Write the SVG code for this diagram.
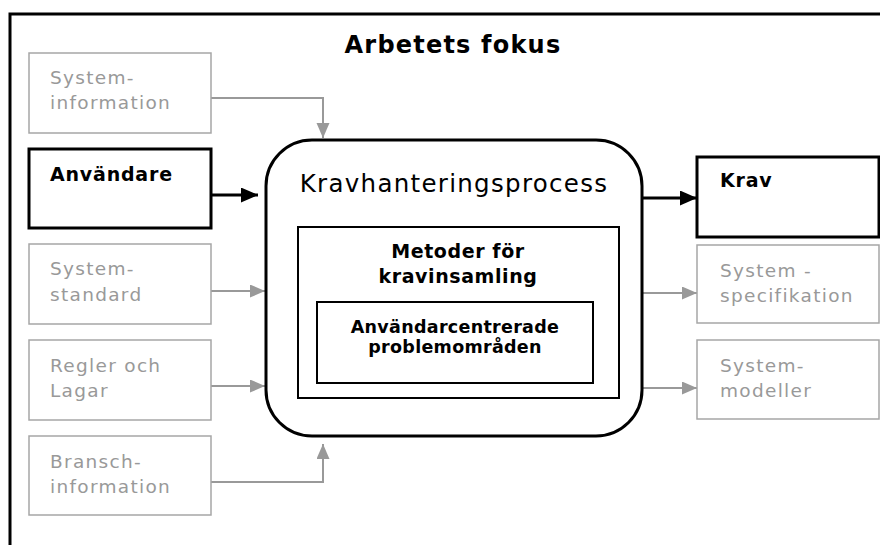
<svg xmlns="http://www.w3.org/2000/svg" width="880" height="545" viewBox="0 0 880 545">
  <defs>
    <marker id="arrow-black" markerUnits="userSpaceOnUse" markerWidth="18" markerHeight="16" refX="17" refY="7.5" orient="auto">
      <path d="M0,0 L17,7.5 L0,15 z" fill="#000"/>
    </marker>
    <marker id="arrow-grey" markerUnits="userSpaceOnUse" markerWidth="16" markerHeight="14" refX="15" refY="6.5" orient="auto">
      <path d="M0,0 L15,6.5 L0,13 z" fill="#999"/>
    </marker>
    <style>
      .frame { fill: none; stroke: #000; stroke-width: 3; }
      .box-grey { fill: #fff; stroke: #a6a6a6; stroke-width: 1.5; }
      .box-black { fill: #fff; stroke: #000; stroke-width: 3; }
      .inner { fill: #fff; stroke: #000; stroke-width: 2; }
      .lbl-grey { font-family: "DejaVu Sans", Verdana, sans-serif; font-size: 18.5px; fill: #999; letter-spacing: 1.3px; }
      .lbl-bold { font-family: "DejaVu Sans", Verdana, sans-serif; font-weight: bold; fill: #000; }
      .title { font-size: 24px; letter-spacing: 1.2px; }
      .big { font-family: "DejaVu Sans", Verdana, sans-serif; font-size: 24.5px; fill: #000; letter-spacing: 1.3px; }
      .conn-grey { fill: none; stroke: #999; stroke-width: 2; marker-end: url(#arrow-grey); }
      .conn-black { fill: none; stroke: #000; stroke-width: 3; marker-end: url(#arrow-black); }
    </style>
  </defs>

  <rect width="880" height="545" fill="#fff"/>

  <!-- outer frame -->
  <rect class="frame" x="10" y="14" width="885" height="545"/>
  <text class="lbl-bold title" x="453" y="53" text-anchor="middle">Arbetets fokus</text>

  <!-- connectors -->
  <g id="connectors">
    <path class="conn-grey" d="M211,98 H323 V138"/>
    <path class="conn-black" d="M211,195 H258"/>
    <path class="conn-grey" d="M211,291 H265"/>
    <path class="conn-grey" d="M211,386 H265"/>
    <path class="conn-grey" d="M211,482 H323 V444"/>
    <path class="conn-black" d="M642,198 H697"/>
    <path class="conn-grey" d="M642,293 H697"/>
    <path class="conn-grey" d="M642,388 H697"/>
  </g>

  <!-- inputs -->
  <g id="systeminformation">
    <rect class="box-grey" x="29" y="53" width="182" height="80"/>
    <text class="lbl-grey" x="50" y="84">System-</text>
    <text class="lbl-grey" x="50" y="109">information</text>
  </g>
  <g id="anvandare">
    <rect class="box-black" x="29" y="149" width="182" height="79"/>
    <text class="lbl-bold" x="50" y="181" font-size="19" letter-spacing="0.8">Användare</text>
  </g>
  <g id="systemstandard">
    <rect class="box-grey" x="29" y="244" width="182" height="80"/>
    <text class="lbl-grey" x="50" y="275">System-</text>
    <text class="lbl-grey" x="50" y="301">standard</text>
  </g>
  <g id="regler-och-lagar">
    <rect class="box-grey" x="29" y="340" width="182" height="80"/>
    <text class="lbl-grey" x="50" y="372">Regler och</text>
    <text class="lbl-grey" x="50" y="397">Lagar</text>
  </g>
  <g id="branschinformation">
    <rect class="box-grey" x="29" y="436" width="182" height="79"/>
    <text class="lbl-grey" x="50" y="468">Bransch-</text>
    <text class="lbl-grey" x="50" y="493">information</text>
  </g>

  <!-- process -->
  <g id="kravhanteringsprocess">
    <rect x="266" y="140" width="376" height="296" rx="46" ry="46" fill="#fff" stroke="#000" stroke-width="3"/>
    <text class="big" x="454" y="192" text-anchor="middle">Kravhanteringsprocess</text>
  </g>
  <g id="metoder">
    <rect class="inner" x="298" y="227" width="321" height="171"/>
    <text class="lbl-bold" x="458" y="258" font-size="19" letter-spacing="0.6" text-anchor="middle">Metoder för</text>
    <text class="lbl-bold" x="458" y="283" font-size="19" letter-spacing="0.6" text-anchor="middle">kravinsamling</text>
  </g>
  <g id="problemomraden">
    <rect class="inner" x="317" y="302" width="276" height="81"/>
    <text class="lbl-bold" x="455" y="333" font-size="17.5" letter-spacing="0.3" text-anchor="middle">Användarcentrerade</text>
    <text class="lbl-bold" x="455" y="353" font-size="17.5" letter-spacing="0.3" text-anchor="middle">problemområden</text>
  </g>

  <!-- outputs -->
  <g id="krav">
    <rect class="box-black" x="697" y="157" width="182" height="80"/>
    <text class="lbl-bold" x="720" y="187" font-size="19" letter-spacing="0.8">Krav</text>
  </g>
  <g id="systemspecifikation">
    <rect class="box-grey" x="697" y="245" width="182" height="78"/>
    <text class="lbl-grey" x="720" y="277">System -</text>
    <text class="lbl-grey" x="720" y="302">specifikation</text>
  </g>
  <g id="systemmodeller">
    <rect class="box-grey" x="697" y="340" width="182" height="79"/>
    <text class="lbl-grey" x="720" y="372">System-</text>
    <text class="lbl-grey" x="720" y="397">modeller</text>
  </g>
</svg>
